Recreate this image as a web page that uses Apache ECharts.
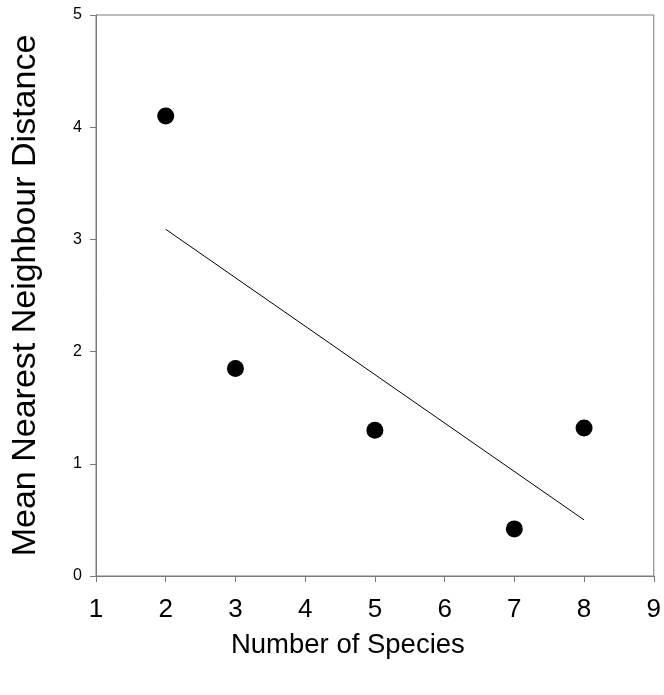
<!DOCTYPE html>
<html>
<head>
<meta charset="utf-8">
<script src="https://cdn.jsdelivr.net/npm/echarts@6/dist/echarts.min.js"></script>
<style>
html,body{margin:0;padding:0;background:#fff;}
#c{width:664px;height:695px;}
</style>
</head>
<body>
<div id="c"></div>
<script>
const speciesCount = [2, 3, 5, 7, 8];
const meanNND = [4.1, 1.85, 1.3, 0.42, 1.32];
const fitX = [2, 8];
const fitY = [3.09, 0.5];
const xTicks = [1, 2, 3, 4, 5, 6, 7, 8, 9];
const yTicks = [0, 1, 2, 3, 4, 5];

const chart = echarts.init(document.getElementById('c'));
const axisGray = '#7a7a7a';
const font = 'Liberation Sans, Arial, sans-serif';
chart.setOption({
  animation: false,
  backgroundColor: '#fff',
  grid: { left: 96, right: 8, top: 15, bottom: 119, show: true, borderColor: axisGray, borderWidth: 1 },
  xAxis: {
    type: 'value', min: xTicks[0], max: xTicks[xTicks.length - 1], interval: 1,
    name: 'Number of Species', nameLocation: 'middle', nameGap: 55,
    nameTextStyle: { fontSize: 27.5, color: '#000', fontFamily: font, padding: [0, 54, 0, 0] },
    axisLine: { show: true, lineStyle: { color: axisGray, width: 1 } },
    axisTick: { show: true, length: 6, lineStyle: { color: axisGray } },
    axisLabel: { fontSize: 26, color: '#000', margin: 21, fontFamily: font },
    splitLine: { show: false }
  },
  yAxis: {
    type: 'value', min: yTicks[0], max: yTicks[yTicks.length - 1], interval: 1,
    name: 'Mean Nearest Neighbour Distance', nameLocation: 'middle', nameGap: 53,
    nameTextStyle: { fontSize: 34, color: '#000', fontFamily: font },
    axisLine: { show: true, lineStyle: { color: axisGray, width: 1 } },
    axisTick: { show: true, length: 6, lineStyle: { color: axisGray } },
    axisLabel: { fontSize: 16, color: '#000', margin: 14, fontFamily: font },
    splitLine: { show: false }
  },
  series: [
    {
      type: 'scatter',
      data: speciesCount.map((x, i) => [x, meanNND[i]]),
      symbol: 'circle', symbolSize: 17,
      itemStyle: { color: '#000', opacity: 1 }
    },
    {
      type: 'line',
      data: fitX.map((x, i) => [x, fitY[i]]),
      symbol: 'none',
      lineStyle: { color: '#000', width: 1 }
    }
  ]
});
</script>
</body>
</html>
